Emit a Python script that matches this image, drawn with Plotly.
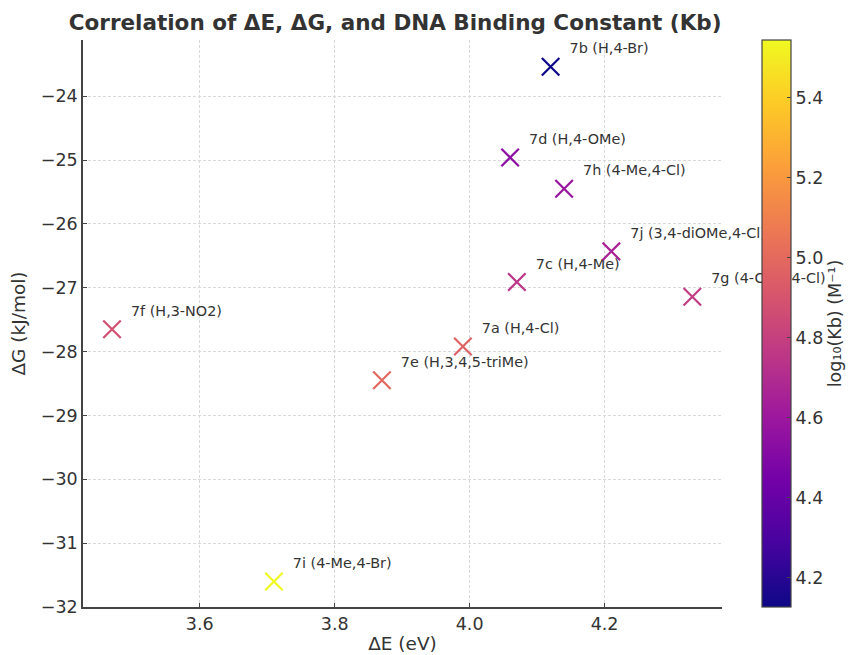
import plotly.graph_objects as go

labels = ["7a (H,4-Cl)", "7b (H,4-Br)", "7c (H,4-Me)", "7d (H,4-OMe)", "7e (H,3,4,5-triMe)",
          "7f (H,3-NO2)", "7g (4-OMe,4-Cl)", "7h (4-Me,4-Cl)", "7i (4-Me,4-Br)", "7j (3,4-diOMe,4-Cl)"]
delta_e = [3.99, 4.12, 4.07, 4.06, 3.87, 3.47, 4.33, 4.14, 3.71, 4.21]
delta_g = [-27.92, -23.54, -26.91, -24.96, -28.45, -27.65, -27.14, -25.45, -31.60, -26.43]
log_kb = [4.96, 4.127, 4.75, 4.54, 5.00, 4.88, 4.78, 4.58, 5.545, 4.66]

x_ticks = [3.6, 3.8, 4.0, 4.2]
y_ticks = [-24, -25, -26, -27, -28, -29, -30, -31, -32]
cb_ticks = [4.2, 4.4, 4.6, 4.8, 5.0, 5.2, 5.4]

FONT = "DejaVu Sans"
AX = "#444444"
TXT = "#333333"

fig = go.Figure()

# text labels (invisible markers set the text offset)
fig.add_trace(go.Scatter(
    x=delta_e, y=delta_g, mode="markers+text",
    text=["\u00a0\u00a0" + t for t in labels],
    textposition="top right", cliponaxis=False,
    textfont=dict(family=FONT, size=14.4, color=TXT),
    marker=dict(size=14, opacity=0),
    hoverinfo="skip", showlegend=False,
))

fig.add_trace(go.Scatter(
    x=delta_e, y=delta_g, mode="markers", cliponaxis=False,
    marker=dict(
        symbol="x-thin", size=17.5,
        color=log_kb, colorscale="Plasma",
        line=dict(width=2.2, color=log_kb, colorscale="Plasma"),
        cmin=min(log_kb), cmax=max(log_kb),
        colorbar=dict(
            x=1.0627, xanchor="left", xpad=0, y=0.5, yanchor="middle", ypad=0,
            len=1, lenmode="fraction", thickness=29,
            outlinecolor=AX, outlinewidth=1.2,
            tickvals=cb_ticks, ticktext=[f"{v:.1f}" for v in cb_ticks],
            ticks="inside", ticklen=4, tickcolor=AX,
            tickfont=dict(family=FONT, size=17.5, color=TXT),
            title=dict(text="log₁₀(Kb) (M⁻¹)", side="right",
                       font=dict(family=FONT, size=17.5, color=TXT)),
        ),
    ),
    showlegend=False,
))

axis_common = dict(
    showline=True, linecolor=AX, linewidth=1.6, mirror=False,
    ticks="inside", ticklen=4, tickcolor=AX, tickwidth=1.2,
    showgrid=True, gridcolor="#d9d9d9", griddash="3px,2px", gridwidth=1,
    zeroline=False, automargin=False,
    tickfont=dict(family=FONT, size=17.5, color=TXT),
)

fig.update_layout(
    width=848, height=655,
    margin=dict(l=83, r=126, t=40, b=48, autoexpand=False),
    paper_bgcolor="white", plot_bgcolor="white",
    title=dict(text="<b>Correlation of ΔE, ΔG, and DNA Binding Constant (Kb)</b>",
               x=0.466, xanchor="center", y=0.966, yanchor="middle",
               font=dict(family=FONT, size=21.5, color=TXT)),
    xaxis=dict(range=[3.427, 4.374], tickvals=x_ticks,
               ticktext=[f"{v:.1f}" for v in x_ticks],
               title=dict(text="ΔE (eV)", font=dict(family=FONT, size=18.5, color=TXT), standoff=4),
               **axis_common),
    yaxis=dict(range=[-32, -23.12], tickvals=y_ticks,
               ticktext=[f"\u2212{abs(v)}" for v in y_ticks],
               title=dict(text="ΔG (kJ/mol)", font=dict(family=FONT, size=18.5, color=TXT), standoff=10),
               **axis_common),
)

fig.write_html("out.html")
